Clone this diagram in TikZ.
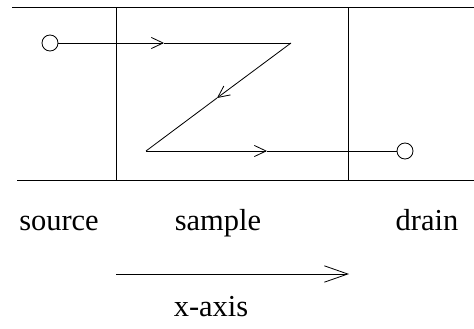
\documentclass[tikz,border=0pt]{standalone}
\usepackage{fontspec}
\setmainfont{Liberation Serif}
\usetikzlibrary{arrows.meta}

\begin{document}
\begin{tikzpicture}[x=0.03cm, y=-0.03cm, line width=0.7pt,
    every node/.style={font=\fontsize{26}{30}\selectfont},
    contact/.style={draw,circle,inner sep=0pt,minimum size=0.48cm,line width=0.7pt},
    barb/.style={-{Straight Barb[length=10pt,width=9.5pt]}}]
  \useasboundingbox (0,0) rectangle (474,328);
  % sample boundaries
  \draw (12,7) -- (474,7);
  \draw (17,180) -- (474,180);
  \draw (116,7) -- (116,180);
  \draw (348,7) -- (348,180);
  % current path
  \node[contact] (src) at (50,43) {};
  \node[contact] (drn) at (405,151) {};
  \coordinate (zr) at (291,43);
  \coordinate (zl) at (146,151);
  \coordinate (a1) at (164,43);
  \coordinate (a2) at (217,98);
  \coordinate (a3) at (267,151);
  \draw[barb] (src) -- (a1); \draw (a1) -- (zr);
  \draw[barb] (zr) -- (a2); \draw (a2) -- (zl);
  \draw[barb] (zl) -- (a3); \draw (a3) -- (drn);
  % labels
  \node[anchor=base] (srclbl) at (59,230) {source};
  \node[anchor=base] (smplbl) at (218,230) {sample};
  \node[anchor=base] (drnlbl) at (427,230) {drain};
  % axis
  \coordinate (ax0) at (116,274);
  \coordinate (ax1) at (349,274);
  \draw[-{Straight Barb[length=20pt,width=14pt]}] (ax0) -- (ax1);
  \node[anchor=base] (axlbl) at (211,316) {x-axis};
\end{tikzpicture}
\end{document}
